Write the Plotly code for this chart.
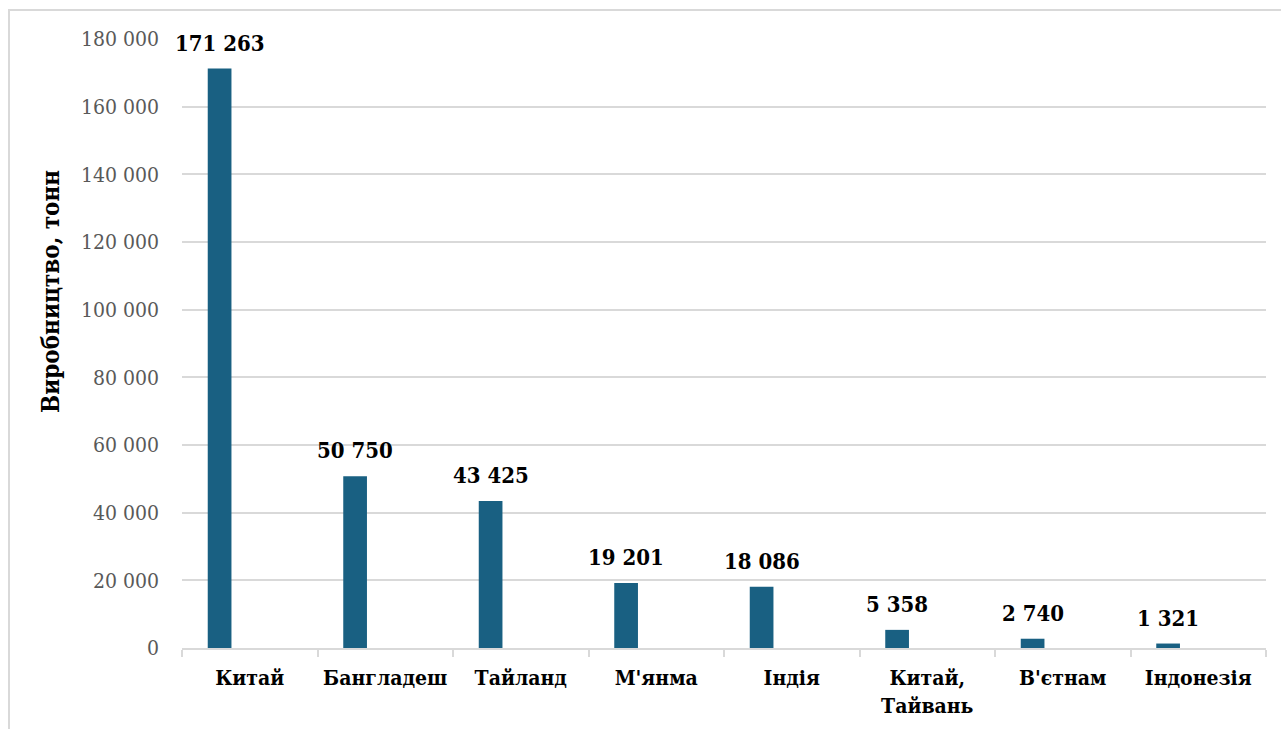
import plotly.graph_objects as go

categories = ["Китай", "Бангладеш", "Тайланд", "М'янма", "Індія", "Китай,<br>Тайвань", "В'єтнам", "Індонезія"]
values = [171263, 50750, 43425, 19201, 18086, 5358, 2740, 1321]
labels = ["171 263", "50 750", "43 425", "19 201", "18 086", "5 358", "2 740", "1 321"]
y_ticks = [0, 20000, 40000, 60000, 80000, 100000, 120000, 140000, 160000, 180000]
y_ticktext = ["0", "20 000", "40 000", "60 000", "80 000", "100 000", "120 000", "140 000", "160 000", "180 000"]
y_title = "Виробництво, тонн"

BAR_COLOR = "#196082"
FONT = "DejaVu Serif Condensed"
BAR_OFFSET = -0.31
BAR_WIDTH = 0.175

fig = go.Figure()
fig.add_trace(go.Bar(
    x=categories, y=values,
    marker=dict(color=BAR_COLOR, line=dict(width=0)),
    width=BAR_WIDTH, offset=BAR_OFFSET,
    hoverinfo="x+y",
))

slot_px = 1084 / len(categories)
shift = (BAR_OFFSET + BAR_WIDTH / 2) * slot_px
for c, v, t in zip(categories, values, labels):
    fig.add_annotation(
        x=c, y=v, text=t, showarrow=False,
        xanchor="center", yanchor="bottom", xshift=shift, yshift=11,
        font=dict(family=FONT, size=22, color="#000000", weight="bold"),
    )

# y-axis title (placed like the original, above the vertical centre)
fig.add_annotation(
    xref="paper", yref="paper", x=-0.1218, y=0.586, text=y_title,
    showarrow=False, textangle=-90, xanchor="center", yanchor="middle",
    font=dict(family=FONT, size=24, color="#000000", weight="bold"),
)

fig.add_shape(
    type="rect", xref="paper", yref="paper",
    x0=-0.1596, x1=1.03, y0=-0.16, y1=1.0476,
    line=dict(color="#d9d9d9", width=2), fillcolor="rgba(0,0,0,0)", layer="below",
)

fig.update_layout(
    width=1281, height=729,
    margin=dict(l=182, r=15, t=39, b=81),
    paper_bgcolor="white", plot_bgcolor="white",
    showlegend=False,
    font=dict(family=FONT),
    xaxis=dict(
        type="category", automargin=False, range=[-0.5, len(categories) - 0.5],
        showline=True, linecolor="#d9d9d9", linewidth=2,
        ticks="outside", tickson="boundaries", ticklen=7, tickcolor="#d9d9d9", tickwidth=2,
        tickfont=dict(family=FONT, size=21, color="#000000", weight="bold"),
        ticklabelstandoff=10,
        showgrid=False, fixedrange=True,
    ),
    yaxis=dict(
        range=[0, 180000], automargin=False,
        tickvals=y_ticks, ticktext=y_ticktext,
        showgrid=True, gridcolor="#d9d9d9", gridwidth=2,
        zeroline=False, showline=False, ticks="",
        tickfont=dict(family=FONT, size=21, color="#595959"),
        ticklabelstandoff=22,
        fixedrange=True,
    ),
)

fig.write_html("out.html")
